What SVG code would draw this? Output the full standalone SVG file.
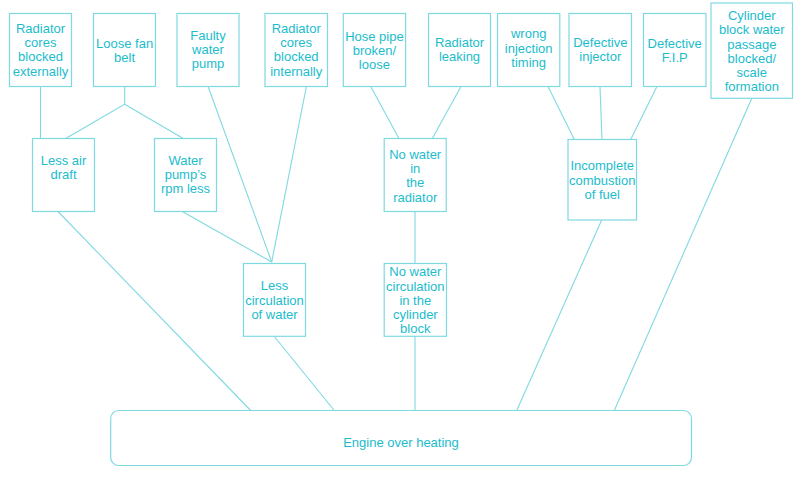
<svg xmlns="http://www.w3.org/2000/svg" width="803" height="481" viewBox="0 0 803 481">
<style>
.b{fill:none;stroke:#7fd9e1;stroke-width:1.2}
.c line,.c polyline{fill:none;stroke:#7fd9e1;stroke-width:1.1}
text{font-family:"Liberation Sans",Arial,sans-serif;font-size:13px;fill:#1bbccc;text-anchor:middle}
</style>
<rect width="803" height="481" fill="#ffffff"/>
<g class="c" id="connectors">
<line x1="40.5" y1="87" x2="40.5" y2="138.5"/>
<polyline points="124.7,87 124.7,104.3 65.7,138.5"/>
<line x1="124.7" y1="104.3" x2="183.3" y2="138.5"/>
<line x1="208.3" y1="87" x2="271.7" y2="262"/>
<line x1="306.3" y1="87" x2="271.7" y2="262"/>
<line x1="182.3" y1="211.5" x2="271.7" y2="262"/>
<line x1="371" y1="87" x2="399" y2="138.5"/>
<line x1="460.7" y1="87" x2="432.3" y2="138.5"/>
<line x1="548.3" y1="87" x2="574.3" y2="139.5"/>
<line x1="600" y1="87" x2="602" y2="139.5"/>
<line x1="656.7" y1="87" x2="630.7" y2="139.5"/>
<line x1="415" y1="211.5" x2="415" y2="263.5"/>
<line x1="58" y1="211.5" x2="250.7" y2="410.5"/>
<line x1="274.3" y1="336.5" x2="334.3" y2="410.5"/>
<line x1="415" y1="336.5" x2="415" y2="410.5"/>
<line x1="601.7" y1="220" x2="516.7" y2="410.5"/>
<line x1="751.7" y1="98.5" x2="614.3" y2="410.5"/>
</g>
<g id="n1"><rect class="b" x="9.5" y="13.5" width="62" height="73"/><text x="40.5" y="32.5">Radiator</text><text x="40.5" y="47">cores</text><text x="40.5" y="61.4">blocked</text><text x="40.5" y="75.6">externally</text></g>
<g id="n2"><rect class="b" x="93.5" y="13.5" width="62" height="73"/><text x="124.6" y="48">Loose fan</text><text x="124.6" y="62">belt</text></g>
<g id="n3"><rect class="b" x="177" y="13.5" width="62" height="73"/><text x="208" y="39.7">Faulty</text><text x="208" y="54">water</text><text x="208" y="68.2">pump</text></g>
<g id="n4"><rect class="b" x="265" y="13.5" width="62.5" height="73"/><text x="296.2" y="32.5">Radiator</text><text x="296.2" y="47">cores</text><text x="296.2" y="61.4">blocked</text><text x="296.2" y="75.6">internally</text></g>
<g id="n5"><rect class="b" x="343.3" y="13.5" width="62.3" height="73"/><text x="374.4" y="40.7">Hose pipe</text><text x="374.4" y="55.2">broken/</text><text x="374.4" y="69">loose</text></g>
<g id="n6"><rect class="b" x="428.5" y="13.5" width="62" height="73"/><text x="459.5" y="47">Radiator</text><text x="459.5" y="61.4">leaking</text></g>
<g id="n7"><rect class="b" x="497.5" y="13.5" width="62.3" height="73"/><text x="528.7" y="38">wrong</text><text x="528.7" y="52.8">injection</text><text x="528.7" y="66.8">timing</text></g>
<g id="n8"><rect class="b" x="569" y="13.5" width="62.5" height="73"/><text x="600.3" y="47">Defective</text><text x="600.3" y="61.3">injector</text></g>
<g id="n9"><rect class="b" x="643.5" y="13.5" width="62.5" height="73"/><text x="674.7" y="48">Defective</text><text x="674.7" y="62">F.I.P</text></g>
<g id="n10"><rect class="b" x="711" y="3" width="81.5" height="95.3"/><text x="751.8" y="19.7">Cylinder</text><text x="751.8" y="34">block water</text><text x="751.8" y="48.5">passage</text><text x="751.8" y="62.7">blocked/</text><text x="751.8" y="77.2">scale</text><text x="751.8" y="91.3">formation</text></g>
<g id="n11"><rect class="b" x="32.5" y="138.5" width="62" height="73"/><text x="63.5" y="164.7">Less air</text><text x="63.5" y="178.7">draft</text></g>
<g id="n12"><rect class="b" x="154.5" y="138.5" width="62" height="73"/><text x="185.5" y="164.7">Water</text><text x="185.5" y="179">pump’s</text><text x="185.5" y="193">rpm less</text></g>
<g id="n13"><rect class="b" x="384.2" y="138.5" width="62" height="73"/><text x="415.2" y="158.7">No water</text><text x="415.2" y="173">in</text><text x="415.2" y="187.3">the</text><text x="415.2" y="201.5">radiator</text></g>
<g id="n14"><rect class="b" x="568" y="139.5" width="68.5" height="80.5"/><text x="602.2" y="170.3">Incomplete</text><text x="602.2" y="184.7">combustion</text><text x="602.2" y="198.7">of fuel</text></g>
<g id="n15"><rect class="b" x="243.5" y="263.5" width="62" height="72.8"/><text x="274.5" y="290.3">Less</text><text x="274.5" y="304.7">circulation</text><text x="274.5" y="318.7">of water</text></g>
<g id="n16"><rect class="b" x="384.2" y="263.5" width="62.3" height="72.8"/><text x="415.3" y="276.3">No water</text><text x="415.3" y="290.5">circulation</text><text x="415.3" y="304.7">in the</text><text x="415.3" y="319">cylinder</text><text x="415.3" y="333">block</text></g>
<g id="n17"><rect class="b" x="110.7" y="410.5" width="580.8" height="55" rx="8"/><text x="401" y="447.3">Engine over heating</text></g>
</svg>
